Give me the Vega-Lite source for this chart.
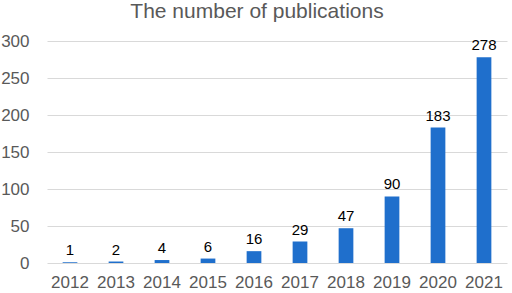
{
  "$schema": "https://vega.github.io/schema/vega-lite/v6.json",
  "autosize": "none",
  "width": 460,
  "height": 222,
  "padding": {"left": 47, "top": 41, "right": 5, "bottom": 30},
  "background": "white",
  "title": {"text": "The number of publications", "fontSize": 21, "font": "Liberation Sans", "fontWeight": "normal", "color": "#595959", "anchor": "middle", "dx": -20, "offset": 10},
  "config": {"view": {"stroke": null}},
  "data": {"values": [
    {"year": "2012", "count": 1},
    {"year": "2013", "count": 2},
    {"year": "2014", "count": 4},
    {"year": "2015", "count": 6},
    {"year": "2016", "count": 16},
    {"year": "2017", "count": 29},
    {"year": "2018", "count": 47},
    {"year": "2019", "count": 90},
    {"year": "2020", "count": 183},
    {"year": "2021", "count": 278}
  ]},
  "encoding": {
    "x": {"field": "year", "type": "ordinal", "scale": {"paddingInner": 0.68, "paddingOuter": 0.34},
      "axis": {"title": null, "labelAngle": 0, "labelFont": "Liberation Sans", "labelFontSize": 17, "labelColor": "#595959", "ticks": false, "domain": false, "labelPadding": 11}},
    "y": {"field": "count", "type": "quantitative", "scale": {"domain": [0, 300]},
      "axis": {"title": null, "values": [0, 50, 100, 150, 200, 250, 300], "labelFont": "Liberation Sans", "labelFontSize": 17, "labelColor": "#595959", "ticks": false, "domain": false, "labelPadding": 18, "gridColor": "#d9d9d9", "gridWidth": 1}}
  },
  "layer": [
    {"mark": {"type": "bar", "color": "#1f6fcc"}},
    {"mark": {"type": "text", "baseline": "bottom", "dy": -4, "font": "Liberation Sans", "fontSize": 15, "color": "#000000"},
     "encoding": {"text": {"field": "count", "type": "quantitative"}}}
  ]
}
